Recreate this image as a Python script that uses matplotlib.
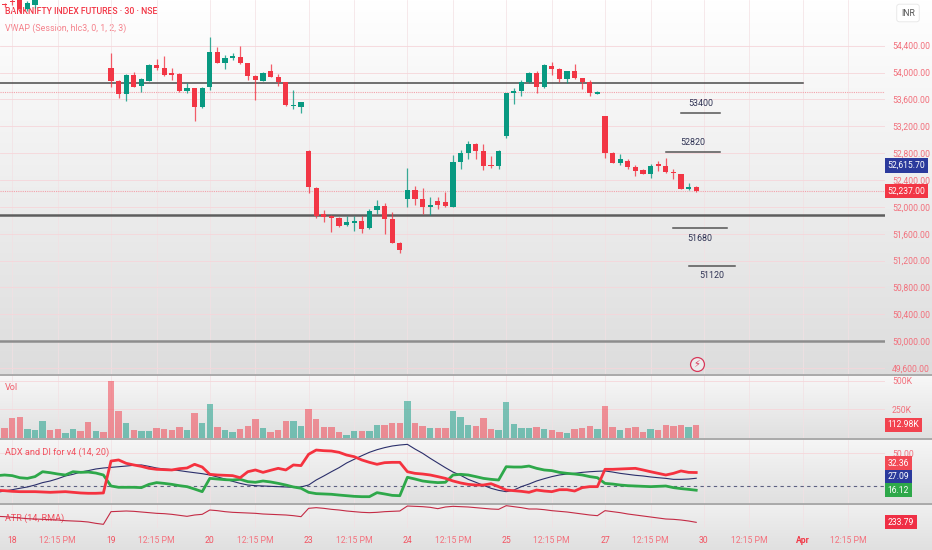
import numpy as np
import matplotlib
matplotlib.use('Agg')
from matplotlib import pyplot as plt
from matplotlib.colors import LinearSegmentedColormap
from matplotlib.lines import Line2D

plt.rcParams['font.family'] = ['Roboto', 'DejaVu Sans']

W, H = 932, 550
GREEN = '#089981'
RED = '#f23645'

# bar index: 0 = first 30-min bar of the 18th, 13 bars per session
first_bar = -2

opens = [55150, 55010,
         55060, 55130, 54942, 55001, 55130, 55240, 55200, 55160, 55210, 55260, 55230, 55150, 55190,
         54073, 53879, 53676, 53964, 53805, 53879, 54113, 54063, 53994, 53984, 53721, 53765, 53482,
         53780, 54306, 54142, 54222, 54237, 54137, 53954, 53879, 54018, 53929, 53855, 53497, 53492,
         52832, 52286, 51889, 51869, 51830, 51730, 51765, 51795, 51690, 51954, 52013, 51815, 51467,
         52112, 52251, 52112, 52003, 52088, 52068, 52003, 52673, 52797, 52931, 52832, 52624, 52609,
         53055, 53691, 53725, 53864, 53989, 53780, 54098, 54048, 53904, 54023, 53914, 53864, 53685,
         53353, 52807, 52658, 52688, 52599, 52549, 52490, 52639, 52609, 52525, 52490, 52267, 52301]
highs = [55200, 55042,
         55110, 55150, 55060, 55180, 55280, 55270, 55230, 55240, 55290, 55280, 55250, 55220, 55210,
         54286, 53889, 53974, 54004, 53914, 54120, 54197, 54247, 54073, 53990, 53840, 53770, 53790,
         54525, 54386, 54262, 54286, 54401, 54140, 53960, 54004, 54128, 53979, 53860, 53741, 53567,
         52840, 52290, 51954, 51875, 51854, 51864, 51864, 51864, 51969, 52103, 52053, 51929, 51470,
         52574, 52316, 52276, 52142, 52152, 52227, 52772, 52847, 52981, 52946, 52931, 52758, 52840,
         53701, 53765, 53889, 54003, 54023, 54123, 54162, 54063, 54030, 54123, 53924, 53889, 53730,
         53358, 52812, 52783, 52708, 52624, 52559, 52634, 52688, 52723, 52559, 52495, 52361, 52311]
lows = [55100, 54982,
        55006, 54887, 54921, 54961, 55110, 55170, 55130, 55150, 55190, 55200, 55120, 55130, 55140,
        53790, 53626, 53582, 53780, 53716, 53870, 54038, 53949, 53889, 53706, 53691, 53279, 53475,
        53740, 54137, 54048, 54187, 54130, 53889, 53592, 53870, 53929, 53800, 53505, 53453, 53403,
        52212, 51840, 51780, 51631, 51696, 51715, 51646, 51606, 51666, 51894, 51596, 51462, 51318,
        51993, 52028, 51889, 51879, 51969, 52003, 51998, 52559, 52713, 52713, 52549, 52584, 52564,
        53031, 53527, 53656, 53840, 53701, 53775, 53964, 53855, 53840, 53904, 53755, 53651, 53680,
        52723, 52655, 52624, 52564, 52465, 52485, 52435, 52539, 52510, 52410, 52262, 52251, 52227]
closes = [55180, 55000,
          55046, 54942, 55031, 55130, 55240, 55200, 55160, 55210, 55260, 55230, 55150, 55190, 55170,
          53879, 53681, 53964, 53790, 53899, 54113, 54073, 53964, 53969, 53721, 53765, 53482, 53765,
          54306, 54147, 54222, 54252, 54137, 53954, 53884, 53989, 53939, 53855, 53512, 53512, 53557,
          52301, 51869, 51854, 51830, 51720, 51780, 51795, 51666, 51939, 52013, 51820, 51467, 51358,
          52251, 52117, 51993, 52028, 52028, 52018, 52673, 52797, 52931, 52832, 52614, 52609, 52832,
          53701, 53725, 53855, 53989, 53780, 54113, 54048, 53904, 54023, 53914, 53864, 53701, 53705,
          52807, 52659, 52708, 52599, 52534, 52490, 52614, 52609, 52525, 52500, 52267, 52301, 52237]

volumes_k = [130, 82,
             171, 177, 77, 68, 150, 68, 77, 38, 77, 59, 135, 59, 53,
             495, 230, 127, 68, 59, 59, 82, 77, 68, 91, 68, 215, 127,
             294, 91, 68, 53, 77, 106, 165, 88, 53, 68, 147, 147, 106,
             250, 165, 97, 91, 53, 24, 59, 59, 59, 112, 112, 127, 127,
             324, 127, 103, 82, 82, 85, 236, 180, 112, 103, 171, 77, 62,
             312, 118, 88, 88, 91, 77, 68, 53, 38, 77, 88, 103, 77,
             274, 97, 68, 82, 91, 53, 77, 68, 112, 103, 112, 91, 112.98]

minus_di = [16.0, 15.7,
            15.1, 14.8, 14.8, 14.8, 14.5, 14.2, 14.5, 14.8, 14.2, 13.6, 13.3, 13.3, 13.6,
            42.9, 43.9, 40.8, 39.3, 38.0, 36.2, 35.3, 35.0, 34.7, 35.9, 36.5, 39.9, 37.4,
            30.7, 30.1, 29.8, 29.5, 27.6, 33.1, 34.7, 32.5, 34.4, 36.2, 34.7, 39.3, 38.7,
            49.1, 53.0, 52.4, 52.1, 50.9, 48.4, 46.9, 43.9, 41.7, 39.9, 41.4, 41.7, 41.7,
            33.1, 31.6, 31.0, 30.1, 28.6, 27.0, 24.6, 22.8, 21.5, 20.9, 20.9, 22.1, 19.4,
            16.3, 15.7, 15.1, 14.2, 16.3, 15.4, 14.8, 16.6, 16.6, 15.4, 18.5, 19.4, 19.4,
            35.3, 35.3, 35.6, 35.9, 36.2, 34.7, 33.1, 31.6, 30.1, 31.6, 33.8, 32.5, 32.36]
plus_di = [29.5, 30.1,
           29.5, 27.6, 27.0, 28.6, 33.1, 32.2, 31.0, 30.1, 33.1, 32.5, 32.8, 31.9, 30.1,
           20.0, 18.8, 18.8, 18.8, 18.5, 21.5, 23.1, 22.4, 21.5, 20.3, 19.4, 17.2, 14.8,
           27.0, 26.4, 25.8, 25.5, 26.1, 24.0, 23.4, 24.6, 23.7, 22.4, 20.9, 19.1, 17.9,
           14.2, 13.0, 12.7, 12.4, 11.7, 11.1, 10.5, 10.2, 10.2, 13.9, 12.7, 11.4, 11.1,
           28.0, 26.4, 24.6, 23.7, 23.1, 23.4, 30.1, 30.7, 30.1, 28.6, 27.0, 26.1, 25.5,
           37.7, 37.4, 37.4, 38.3, 36.2, 34.7, 34.1, 32.5, 31.6, 31.0, 30.1, 28.6, 27.6,
           22.4, 21.8, 20.9, 20.3, 20.0, 19.7, 19.4, 19.7, 20.0, 18.5, 17.6, 16.9, 16.12]
adx = [14.2, 15.4,
       16.6, 17.9, 19.1, 20.9, 23.1, 24.6, 26.7, 29.2, 30.7, 32.8, 34.1, 35.6, 36.5,
       37.1, 37.7, 38.3, 39.0, 39.3, 38.0, 36.5, 35.6, 35.0, 34.1, 33.1, 32.2, 31.3,
       30.1, 28.3, 26.4, 24.3, 22.4, 20.9, 20.3, 20.0, 19.7, 19.4, 19.1, 18.8, 19.1,
       20.9, 25.5, 29.2, 33.1, 36.8, 41.1, 44.5, 47.8, 50.9, 53.3, 55.2, 56.7, 57.6,
       58.2, 53.9, 50.0, 45.4, 41.1, 36.8, 32.8, 29.8, 26.1, 23.4, 20.6, 17.9, 16.0,
       14.8, 16.3, 19.4, 21.8, 24.6, 26.7, 28.6, 30.1, 31.0, 31.6, 32.5, 33.1, 33.5,
       33.8, 32.8, 31.6, 30.7, 29.8, 29.2, 28.3, 27.6, 27.0, 26.1, 26.1, 26.4, 27.09]
atr = [269.8, 267.8,
       263.8, 259.8, 255.8, 253.8, 251.8, 249.8, 247.8, 243.8, 241.8, 239.8, 235.8, 227.8, 221.8,
       297.8, 299.8, 301.8, 299.8, 295.8, 291.8, 287.8, 285.8, 281.8, 275.8, 269.8, 277.8, 281.8,
       307.8, 303.8, 297.8, 293.8, 291.8, 289.8, 287.8, 283.8, 281.8, 279.8, 277.8, 273.8, 267.8,
       317.8, 321.8, 317.8, 311.8, 307.8, 301.8, 297.8, 293.8, 291.8, 293.8, 297.8, 299.8, 301.8,
       331.8, 329.8, 327.8, 323.8, 315.8, 325.8, 329.8, 327.8, 325.8, 321.8, 317.8, 313.8, 311.8,
       333.8, 327.8, 321.8, 313.8, 313.8, 309.8, 303.8, 299.8, 295.8, 289.8, 283.8, 277.8, 273.8,
       303.8, 297.8, 291.8, 283.8, 277.8, 271.8, 265.8, 259.8, 253.8, 251.8, 247.8, 241.8, 233.79]

vwap_last = 52615.70
price_ticks = list(range(49600, 54401, 400))
black_level = 53849
thick_level = 51884
round_level = 50000
prev_level = 53715
target_levels = [53400, 52820, 51680, 51120]
target_spans = [(88.0, 93.1), (86.0, 93.1), (86.9, 94.1), (89.1, 95.1)]

tick_pos = [0, 6, 13, 19, 26, 32, 39, 45, 52, 58, 65, 71, 78, 84, 91, 97, 104, 110]
tick_text = ['18', '12:15 PM', '19', '12:15 PM', '20', '12:15 PM', '23', '12:15 PM', '24',
             '12:15 PM', '25', '12:15 PM', '27', '12:15 PM', '30', '12:15 PM', 'Apr', '12:15 PM']


def px_rect(x0, y0, x1, y1):
    return [x0 / W, 1 - y1 / H, (x1 - x0) / W, (y1 - y0) / H]


fig = plt.figure(figsize=(W / 100, H / 100), dpi=100)

# pane backgrounds (gradient white -> gray)
grad = np.linspace(0, 1, 256).reshape(-1, 1)
for top, bot, c0, c1 in [(0, 374, '#ffffff', '#dddddd'), (375, 438, '#f8f8f8', '#e0e0e0'),
                         (439, 503, '#f6f6f6', '#e0e0e0'), (504, 550, '#f0f0f0', '#e0e0e0')]:
    bg = fig.add_axes(px_rect(0, top, W, bot), zorder=0)
    bg.imshow(grad, aspect='auto', extent=[0, 1, 0, 1],
              cmap=LinearSegmentedColormap.from_list('g', [c0, c1]))
    bg.axis('off')

xlim = (-1.605, 114.84)
ax = fig.add_axes(px_rect(0, 0, 885, 374), zorder=2)
ax_vol = fig.add_axes(px_rect(0, 375, 885, 438.5), zorder=2)
ax_adx = fig.add_axes(px_rect(0, 440, 885, 503), zorder=2)
ax_atr = fig.add_axes(px_rect(0, 504, 885, 528), zorder=2)

for a in [ax, ax_vol, ax_adx, ax_atr]:
    a.set_facecolor('none')
    a.set_xlim(*xlim)
    for s in a.spines.values():
        s.set_visible(False)
    a.yaxis.tick_right()
    a.tick_params(axis='y', length=0, pad=5, labelsize=6.2, labelcolor='#f2707c')
    a.set_xticks(tick_pos)
    a.tick_params(axis='x', length=0)
    a.grid(True, axis='y', color='#f6d6da', lw=0.6, zorder=0)
    a.grid(True, axis='x', color='#f3e0e3', lw=0.5, zorder=0)
    if a is not ax_atr:
        a.set_xticklabels([])

xs = np.arange(first_bar, first_bar + len(opens))
o = np.array(opens)
h = np.array(highs)
l = np.array(lows)
c = np.array(closes)
up = c >= o
cols = np.where(up, GREEN, RED)

# --- price pane
ax.set_ylim(49512, 55080)
ax.set_yticks(price_ticks)
ax.set_yticklabels([f'{p:,.2f}' for p in price_ticks])
ax.vlines(xs, l, h, colors=cols, lw=0.9, alpha=0.8, zorder=4)
ax.bar(xs, np.maximum(np.abs(c - o), 14), bottom=np.minimum(o, c), width=0.7,
       color=cols, zorder=5)

ax.plot([xlim[0], 104.05], [black_level] * 2, color='#4a4a4a', lw=1.1, zorder=3)
ax.axhline(prev_level, color='#f3a2aa', lw=0.8, ls=(0, (1, 1)), zorder=3)
ax.axhline(closes[-1], color='#f3a2aa', lw=0.8, ls=(0, (1, 1)), zorder=3)
ax.axhline(thick_level, color='#5e5e5e', lw=1.8, zorder=3)
ax.axhline(round_level, color='#8d8d8d', lw=1.8, zorder=3)

for lev, (x0, x1) in zip(target_levels, target_spans):
    ax.plot([x0, x1], [lev, lev], color='#555555', lw=1.1, zorder=3)
    above = lev > 52000
    ax.annotate(str(lev), ((x0 + x1) / 2, lev), xytext=(0, 7 if above else -7),
                textcoords='offset points', ha='center', va='center',
                fontsize=6.4, color='#2f3354')

ax.text(5 / 885, 1 - 11 / 374, 'BANKNIFTY INDEX FUTURES · 30 · NSE', transform=ax.transAxes,
        fontsize=6.3, fontweight='medium', color='#f23645', va='center', zorder=1)
ax.text(5 / 885, 1 - 28 / 374, 'VWAP (Session, hlc3, 0, 1, 2, 3)', transform=ax.transAxes,
        fontsize=6.4, color='#f5828c', va='center', zorder=1)

# lightning badge
ax.plot([90.1], [49660], marker='o', ms=10, mfc='#ececec', mec='#d8395a', mew=0.9, zorder=6)
ax.text(90.1, 49660, '\u26a1', fontsize=7, color='#d8395a', ha='center', va='center',
        family=['DejaVu Sans'], zorder=7)

ytr = ax.get_yaxis_transform()
box = dict(boxstyle='square,pad=0.3', ec='none')
ax.text(1.003, vwap_last, f'{vwap_last:,.2f}', transform=ytr, fontsize=6.2, color='white',
        va='center', ha='left', bbox=dict(box, fc='#2b3a9c'), clip_on=False, zorder=8)
ax.text(1.003, closes[-1], f'{closes[-1]:,.2f}', transform=ytr, fontsize=6.2, color='white',
        va='center', ha='left', bbox=dict(box, fc=RED), clip_on=False, zorder=8)
fig.text(908 / W, 1 - 13 / H, 'INR', fontsize=6.2, color='#555555', ha='center', va='center',
         bbox=dict(boxstyle='round,pad=0.5,rounding_size=0.3', fc='white', ec='#e6e6e6', lw=0.6))

# --- volume pane
ax_vol.set_ylim(-8.8, 552)
ax_vol.set_yticks([250, 500])
ax_vol.set_yticklabels(['250K', '500K'])
ax_vol.bar(xs, volumes_k, width=0.85, color=cols, alpha=0.5, zorder=3)
ax_vol.text(5 / 885, 1 - 13 / 63.5, 'Vol', transform=ax_vol.transAxes, fontsize=6.6,
            color='#f0606e', va='center')
ax_vol.text(1.003, volumes_k[-1], f'{volumes_k[-1]:.2f}K', transform=ax_vol.get_yaxis_transform(),
            fontsize=6.2, color='white', va='center', ha='left', bbox=dict(box, fc='#f2434f'),
            clip_on=False)

# --- ADX pane
ax_adx.set_ylim(4.4, 62.2)
ax_adx.set_yticks([50])
ax_adx.set_yticklabels(['50.00'])
ax_adx.axhline(20, color='#5d6182', lw=0.8, ls=(0, (3, 3)), zorder=2)
ax_adx.plot(xs, adx, color='#2b2f6b', lw=0.8, zorder=3)
ax_adx.plot(xs, plus_di, color='#2ea84a', lw=2.0, zorder=4)
ax_adx.plot(xs, minus_di, color='#f5323f', lw=2.0, zorder=5)
ax_adx.text(5 / 885, 1 - 12 / 63, 'ADX and DI for v4 (14, 20)', transform=ax_adx.transAxes,
            fontsize=6.6, color='#f0505e', va='center')
for val, fc, yf in [(minus_di[-1], '#f24a55', 0.63), (adx[-1], '#2b3a9c', 0.417),
                    (plus_di[-1], '#2ea84a', 0.206)]:
    ax_adx.text(1.003, yf, f'{val:.2f}', transform=ax_adx.transAxes, fontsize=6.2, color='white',
                va='center', ha='left', bbox=dict(box, fc=fc), clip_on=False)

# --- ATR pane
ax_atr.set_ylim(199.8, 343.8)
ax_atr.set_yticks([])
ax_atr.plot(xs, atr, color='#c42b45', lw=0.8, zorder=3)
ax_atr.text(5 / 885, 1 - 14 / 24, 'ATR (14, RMA)', transform=ax_atr.transAxes, fontsize=6.6,
            color='#f0505e', va='center', zorder=2)
ax_atr.text(1.003, atr[-1], f'{atr[-1]:.2f}', transform=ax_atr.get_yaxis_transform(),
            fontsize=6.2, color='white', va='center', ha='left', bbox=dict(box, fc='#ef2f45'),
            clip_on=False)
ax_atr.set_xticklabels(tick_text)
ax_atr.tick_params(axis='x', pad=6, labelsize=6.2)
for lbl, t in zip(ax_atr.get_xticklabels(), tick_text):
    if t == 'Apr':
        lbl.set_color('#f23645')
        lbl.set_fontweight('bold')
    elif 'PM' in t:
        lbl.set_color('#f4717d')
    else:
        lbl.set_color('#f25462')

# pane separators
for y in [374.5, 438.8, 503.5]:
    fig.add_artist(Line2D([0, 1], [1 - y / H] * 2, transform=fig.transFigure,
                          color='#a9a9a9', lw=1.4, zorder=10))

fig.savefig('out.png', dpi=100)
